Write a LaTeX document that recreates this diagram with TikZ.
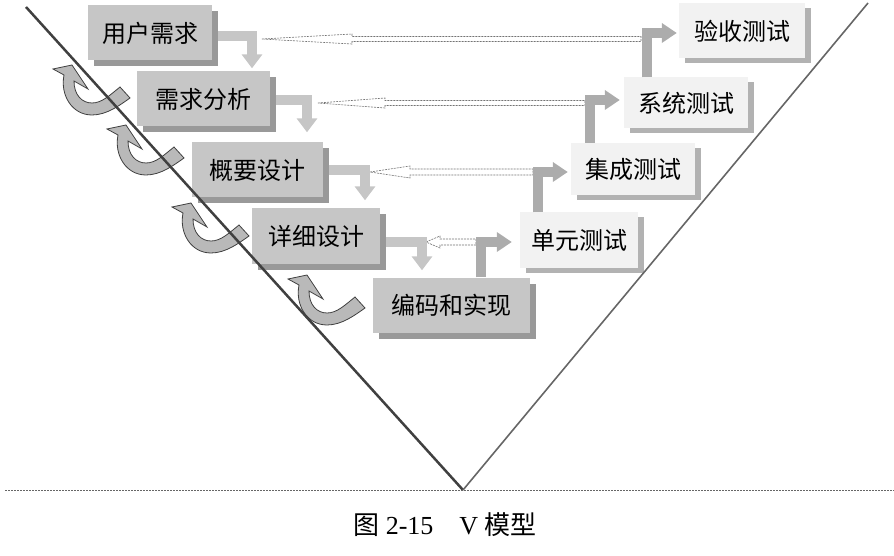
\documentclass[tikz,border=0pt]{standalone}
\usepackage{fontspec}
\setmainfont{Liberation Serif}
\newfontfamily\cjk{Noto Sans CJK SC}
\usetikzlibrary{arrows.meta,shadows,calc}
\tikzset{
  lbox/.style={fill=gray!45, minimum height=55pt, inner sep=0pt,
    font=\cjk\fontsize{24}{24}\selectfont,
    drop shadow={shadow xshift=6pt, shadow yshift=-6pt, fill=gray!80, opacity=1}},
  rbox/.style={fill=gray!10, minimum height=55pt, inner sep=0pt,
    font=\cjk\fontsize{24}{24}\selectfont,
    drop shadow={shadow xshift=6pt, shadow yshift=-5pt, fill=gray!60, opacity=1}},
  downarr/.style={draw=gray!45, line width=10pt, -{Triangle[length=14pt,width=20pt]}},
  uparr/.style={draw=gray!65, line width=10pt, -{Triangle[length=15pt,width=19pt]}},
  hollow/.style={draw=black!55, dash pattern=on 2pt off 1pt, line width=0.6pt, fill=white},
  backarrow/.pic={
    \filldraw[fill=gray!55, draw=black!75, line width=0.8pt]
      (0,0) -- (16,24) -- (2,16) .. controls (2,30) and (10,38) .. (20,38)
      .. controls (30,38) and (38,30) .. (48,22) -- (58,33)
      .. controls (48,40) and (35,50) .. (20,50)
      .. controls (0,50) and (-12,30) .. (-8,10) -- (-19,4) -- cycle;
  }
}
% hollow arrow: tip, tail, head length, head half height, shaft half height
\newcommand\hollowarr[5]{%
  \draw[hollow] (#1) -- ++(#3,-#4) -- ++(0,#4-#5) -- ($(#2)+(0,-#5)$) -- ++(0,2*#5)
    -- ($(#1)+(#3,#5)$) -- ++(0,#4-#5) -- cycle;}
\begin{document}
\begin{tikzpicture}[x=1pt,y=-1pt]
\useasboundingbox (0,0) rectangle (894,556);
% links between the two arms
\coordinate (h1a) at (262,39); \coordinate (h1b) at (641,39);
\coordinate (h2a) at (318,103); \coordinate (h2b) at (585,103);
\coordinate (h3a) at (370,172); \coordinate (h3b) at (533,172);
\coordinate (h4a) at (426,242); \coordinate (h4b) at (476,242);
\hollowarr{h1a}{h1b}{90}{5}{2.5}
\hollowarr{h2a}{h2b}{67}{5}{2.5}
\hollowarr{h3a}{h3b}{40}{6}{3}
\hollowarr{h4a}{h4b}{14}{6}{3}
% left arm
\node[lbox, minimum width=124pt] (user) at (150,33) {用户需求};
\node[lbox, minimum width=133pt] (anal) at (203,99) {需求分析};
\node[lbox, minimum width=131pt] (design) at (257,170) {概要设计};
\node[lbox, minimum width=128pt] (detail) at (316,236) {详细设计};
\node[lbox, minimum width=157pt] (code) at (451,305) {编码和实现};
% right arm
\node[rbox, minimum width=126pt] (accept) at (742,31) {验收测试};
\node[rbox, minimum width=124pt, minimum height=51pt] (sys) at (686,103) {系统测试};
\node[rbox, minimum width=124pt, minimum height=52pt] (integ) at (633,169) {集成测试};
\node[rbox, minimum width=118pt] (unit) at (579,240) {单元测试};
\draw[downarr] ([xshift=6pt,yshift=-3pt]user.east) -| ([xshift=49pt,yshift=3pt]anal.north);
\draw[downarr] ([xshift=6pt,yshift=-1pt]anal.east) -| ([xshift=50pt,yshift=10pt]design.north);
\draw[downarr] ([xshift=6pt]design.east) -| ([xshift=49pt,yshift=8pt]detail.north);
\draw[downarr] ([xshift=6pt,yshift=-6pt]detail.east) -| ([xshift=-29pt,yshift=7pt]code.north);
\draw[uparr] ([xshift=30pt]code.north) |- ([xshift=-8pt,yshift=-2pt]unit.west);
\draw[uparr] ([xshift=-41pt]unit.north) |- ([xshift=-3pt,yshift=-3pt]integ.west);
\draw[uparr] ([xshift=-43pt]integ.north) |- ([xshift=-4pt,yshift=3pt]sys.west);
\draw[uparr] ([xshift=-39pt]sys.north) |- ([xshift=-2pt,yshift=-2pt]accept.west);
% feedback arrows
\pic at (72,65) {backarrow};
\pic at (126,125) {backarrow};
\pic at (191,203) {backarrow};
\pic at (307,275) {backarrow};
% the V
\coordinate (vl) at (26,7); \coordinate (vb) at (463,490); \coordinate (vr) at (868,3);
\coordinate (bw) at (5,490); \coordinate (be) at (894,490);
\draw[black!75, line width=2.5pt] (vl) -- (vb);
\draw[black!60, line width=1.6pt] (vb) -- (vr);
\draw[black!60, dash pattern=on 2pt off 1pt, line width=0.8pt] (bw) -- (be);
\node[font=\fontsize{26}{26}\selectfont] (cap) at (445,525) {{\cjk 图} 2-15\quad V {\cjk 模型}};
\end{tikzpicture}
\end{document}
